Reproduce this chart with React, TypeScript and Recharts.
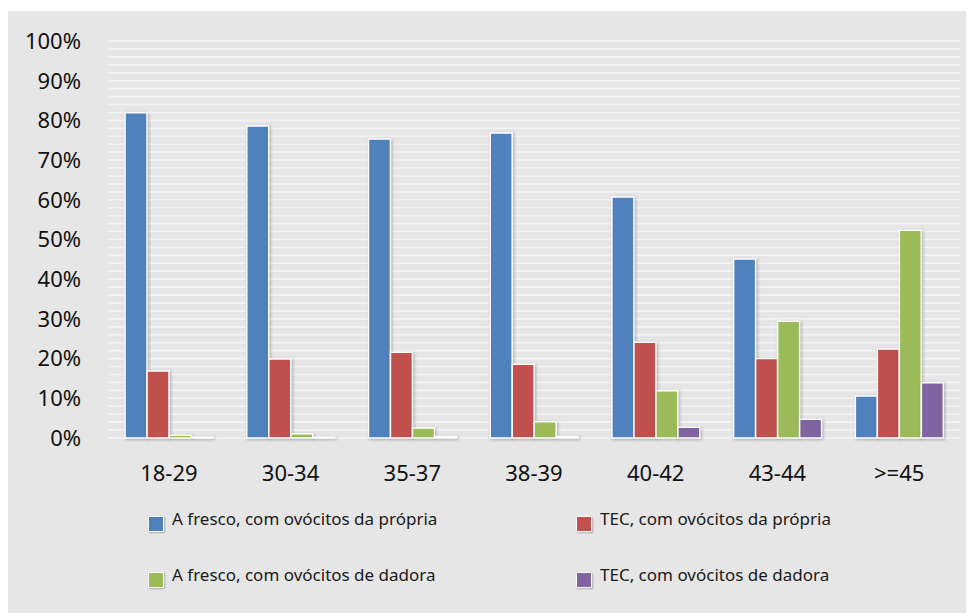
import { BarChart, Bar, XAxis, YAxis, CartesianGrid, Legend } from "recharts";

const ageGroups = ["18-29", "30-34", "35-37", "38-39", "40-42", "43-44", ">=45"];

const frescoPropria = [81.9, 78.6, 75.3, 76.8, 60.7, 45.1, 10.6];
const tecPropria = [16.9, 19.9, 21.6, 18.6, 24.1, 20.0, 22.4];
const frescoDadora = [0.7, 1.1, 2.5, 4.1, 11.9, 29.4, 52.3];
const tecDadora = [0.2, 0.2, 0.4, 0.4, 2.7, 4.7, 13.9];

const seriesNames = [
  "A fresco, com ovócitos da própria",
  "TEC, com ovócitos da própria",
  "A fresco, com ovócitos de dadora",
  "TEC, com ovócitos de dadora",
];
const seriesColors = ["#4f81bd", "#c0504d", "#9bbb59", "#8064a2"];

const percentTicks = [0, 10, 20, 30, 40, 50, 60, 70, 80, 90, 100];
// minor gridlines every 2%
const gridTicks = [
  0, 2, 4, 6, 8, 10, 12, 14, 16, 18, 20, 22, 24, 26, 28, 30, 32, 34, 36, 38, 40, 42, 44, 46, 48, 50,
  52, 54, 56, 58, 60, 62, 64, 66, 68, 70, 72, 74, 76, 78, 80, 82, 84, 86, 88, 90, 92, 94, 96, 98, 100,
];

const data = ageGroups.map((age, i) => ({
  age,
  s0: frescoPropria[i],
  s1: tecPropria[i],
  s2: frescoDadora[i],
  s3: tecDadora[i],
}));

const FONT = "'Noto Sans', 'Open Sans', sans-serif";
const barShadow = { filter: "drop-shadow(1.5px 1.5px 1.5px rgba(0,0,0,0.28))" };

// y positions of the minor gridlines; the axis scale when it is handed over,
// otherwise a linear map over the plot box for the same 0..100 domain
const minorGridLines = ({ yAxis, offset }: any) => {
  const scale = yAxis && typeof yAxis.scale === "function" ? yAxis.scale : null;
  if (scale) return gridTicks.map((t) => scale(t));
  return gridTicks.map((t) => offset.top + offset.height * (1 - t / 100));
};

const LegendGrid = ({ payload }: any) => {
  const items = seriesNames
    .map((n) => (payload || []).find((p: any) => p.value === n))
    .filter(Boolean);
  return (
    <div
      style={{
        display: "grid",
        gridTemplateColumns: "428px 360px",
        rowGap: 36,
        paddingLeft: 141,
        fontFamily: FONT,
        fontSize: 17,
        color: "#1a1a1a",
      }}
    >
      {items.map((p: any) => (
        <div key={p.value} style={{ display: "flex", alignItems: "flex-start", height: 20 }}>
          <span
            style={{
              width: 14,
              height: 14,
              marginTop: 7,
              marginRight: 8,
              background: p.color,
              border: "1.5px solid #fff",
              boxShadow: "1px 1px 1.5px rgba(0,0,0,0.25)",
            }}
          />
          <span style={{ lineHeight: "20px" }}>{p.value}</span>
        </div>
      ))}
    </div>
  );
};

export default function App() {
  return (
    <div style={{ width: 966, height: 602, marginTop: 3, marginLeft: -1, background: "#e6e6e6" }}>
      <BarChart
        width={966}
        height={602}
        data={data}
        margin={{ top: 30, right: 13, left: 0, bottom: 145 }}
        barCategoryGap="14%"
        barGap={0}
      >
        <CartesianGrid
          vertical={false}
          stroke="#f3f3f3"
          strokeWidth={1.6}
          horizontalCoordinatesGenerator={minorGridLines}
        />
        <XAxis
          dataKey="age"
          axisLine={false}
          tickLine={false}
          tickSize={0}
          tickMargin={27}
          height={30}
          tick={{ fill: "#111", fontSize: 22, fontFamily: FONT }}
        />
        <YAxis
          domain={[0, 100]}
          ticks={percentTicks}
          tickFormatter={(v) => `${v}%`}
          axisLine={false}
          tickLine={false}
          tickSize={0}
          tickMargin={27}
          width={101}
          tick={{ fill: "#111", fontSize: 22, fontFamily: FONT }}
        />
        {seriesNames.map((name, i) => (
          <Bar
            key={name}
            dataKey={`s${i}`}
            name={name}
            fill={seriesColors[i]}
            stroke="#fff"
            strokeWidth={1.5}
            style={barShadow}
            isAnimationActive={false}
          />
        ))}
        <Legend
          layout="vertical"
          align="center"
          verticalAlign="middle"
          content={<LegendGrid />}
          wrapperStyle={{ left: 0, top: 498, width: 966 }}
        />
      </BarChart>
    </div>
  );
}
